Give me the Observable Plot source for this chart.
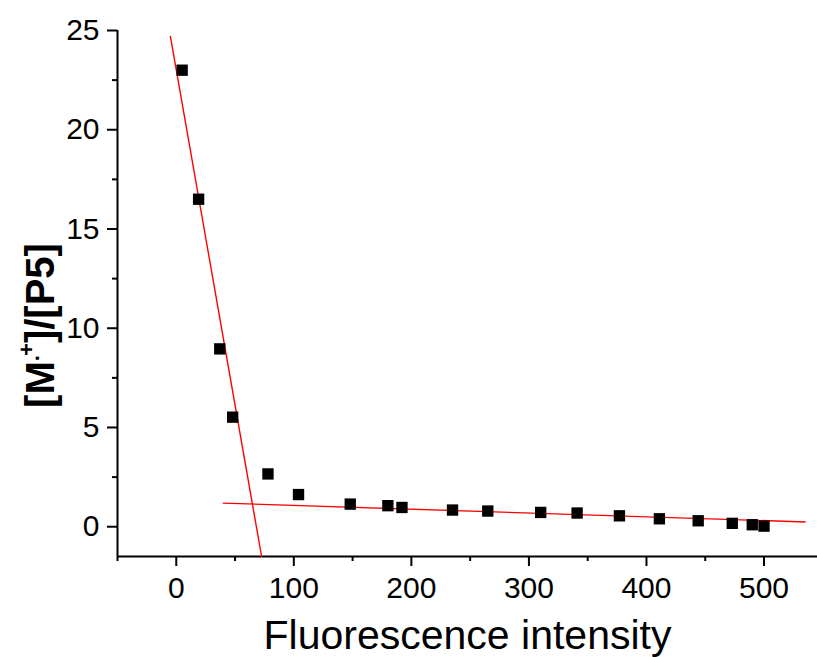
<!DOCTYPE html>
<html>
<head>
<meta charset="utf-8">
<script src="https://cdn.jsdelivr.net/npm/d3@7"></script>
<script src="https://cdn.jsdelivr.net/npm/@observablehq/plot@0.6"></script>
<style>
  html, body { margin: 0; padding: 0; background: white; }
</style>
</head>
<body>
<div id="chart"></div>
<script>
// Data
const intensity = [5, 19, 37, 48, 78, 104, 148, 180, 192, 235, 265, 310, 341, 377, 411, 444, 473, 490, 500];
const ratio = [23.0, 16.5, 8.96, 5.52, 2.66, 1.62, 1.14, 1.06, 0.97, 0.84, 0.79, 0.72, 0.69, 0.55, 0.40, 0.30, 0.17, 0.10, 0.03];

// Linear fit segments (endpoints)
const steepFitX = [-5, 72.6];
const steepFitY = [24.7, -1.5];
const flatFitX = [40, 535];
const flatFitY = [1.19, 0.24];

// Ticks
const xMajorTicks = [0, 100, 200, 300, 400, 500];
const xMinorTicks = [-50, 50, 150, 250, 350, 450];
const yMajorTicks = [0, 5, 10, 15, 20, 25];
const yMinorTicks = [2.5, 7.5, 12.5, 17.5, 22.5];

const xTitle = "Fluorescence intensity";
const yTitle = "[M·+]/[P5]";

const points = intensity.map((x, i) => ({x, y: ratio[i]}));
const steep = steepFitX.map((x, i) => ({x, y: steepFitY[i]}));
const flat = flatFitX.map((x, i) => ({x, y: flatFitY[i]}));

const font = "'Liberation Sans', Arial, Helvetica, sans-serif";

const plot = Plot.plot({
  width: 817,
  height: 657,
  marginLeft: 117,
  marginRight: 0,
  marginTop: 30,
  marginBottom: 101,
  x: {domain: [-50, 545.5]},
  y: {domain: [-1.5, 25]},
  style: {fontFamily: font, background: "white", color: "#000", overflow: "visible"},
  marks: [
    Plot.axisX({ticks: xMajorTicks, tickSize: 10, tickPadding: 10, fontSize: 30, label: null, stroke: "#000", strokeWidth: 2, tickFormat: d => String(d)}),
    Plot.axisX({ticks: xMinorTicks, tickSize: 5, text: null, label: null, stroke: "#000", strokeWidth: 2}),
    Plot.axisY({ticks: yMajorTicks, tickSize: 10, tickPadding: 8, fontSize: 30, label: null, stroke: "#000", strokeWidth: 2, tickFormat: d => String(d)}),
    Plot.axisY({ticks: yMinorTicks, tickSize: 5, text: null, label: null, stroke: "#000", strokeWidth: 2}),
    Plot.ruleX([-50], {stroke: "#000", strokeWidth: 2}),
    Plot.ruleY([-1.5], {stroke: "#000", strokeWidth: 2}),
    Plot.line(steep, {x: "x", y: "y", stroke: "#ff0000", strokeWidth: 1.4}),
    Plot.line(flat, {x: "x", y: "y", stroke: "#ff0000", strokeWidth: 1.4}),
    Plot.dot(points, {x: "x", y: "y", symbol: "square", r: 6.4, fill: "#000", stroke: "none"}),
    Plot.text([xTitle], {frameAnchor: "bottom", dy: 79, textAnchor: "middle", lineAnchor: "middle", fontSize: 41, fill: "#000", text: d => d}),
    Plot.text([yTitle], {frameAnchor: "left", dx: -76, dy: 32, rotate: -90, textAnchor: "middle", lineAnchor: "middle", fontSize: 40, fontWeight: "bold", fill: "#000", text: d => d})
  ]
});

document.getElementById("chart").appendChild(plot);

// Superscript formatting of the y-axis title
d3.select(plot).selectAll("text").each(function () {
  if (this.textContent !== yTitle) return;
  const t = d3.select(this);
  t.text(null);
  t.append("tspan").text("[M");
  t.append("tspan").style("font-size", "22px").attr("dy", -9).text("·");
  t.append("tspan").style("font-size", "22px").attr("dx", -2).attr("dy", -11).text("+");
  t.append("tspan").style("font-size", "40px").attr("dy", 20).text("]/[P5]");
});
</script>
</body>
</html>
